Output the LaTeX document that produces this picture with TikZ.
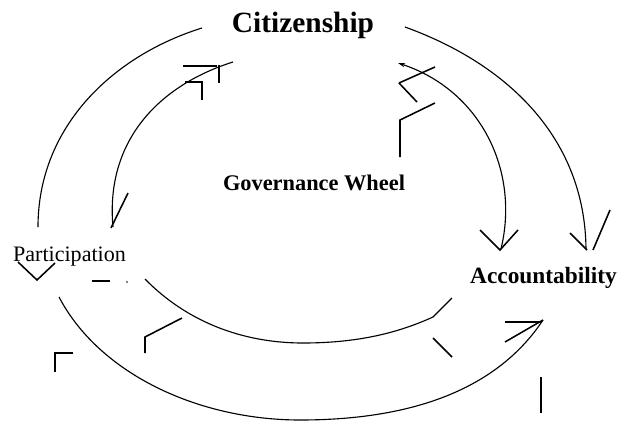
\documentclass[tikz,border=0pt]{standalone}
\usepackage{fontspec}
\setmainfont{Liberation Serif}
\usetikzlibrary{arrows.meta}

\begin{document}
\begin{tikzpicture}[x=0.025cm, y=-0.025cm, line width=0.8pt,
    word/.style={anchor=base, inner sep=0pt},
    barb/.style={line width=1.1pt}]
    \useasboundingbox (0,0) rectangle (627,423);

    \node[word, font=\bfseries\fontsize{20.9}{24}\selectfont] (cit) at (303,32) {Citizenship};
    \node[word, font=\bfseries\fontsize{15.9}{19}\selectfont] (wheel) at (314,190) {Governance Wheel};
    \node[word, font=\fontsize{15.7}{19}\selectfont] (part) at (69.5,261) {Participation};
    \node[word, font=\bfseries\fontsize{16.6}{20}\selectfont] (acc) at (543.5,283) {Accountability};

    % arc ends
    \coordinate (tl1) at (202,28);
    \coordinate (tl2) at (38,227);
    \coordinate (ti1) at (233,62);
    \coordinate (ti2) at (113,227);
    \coordinate (tr1) at (405,27);
    \coordinate (tr2) at (586,249);
    \coordinate (ri1) at (398,63);
    \coordinate (ri2) at (501,249);
    \coordinate (bi1) at (145,279);
    \coordinate (bi2) at (433,317);
    \coordinate (bo1) at (59,297);
    \coordinate (bo2) at (543,320);

    \draw (tl1) .. controls (115,55) and (38,125) .. (tl2);
    \draw (ti1) .. controls (160,85) and (105,140) .. (ti2);
    \draw (tr1) .. controls (510,65) and (585,140) .. (tr2);
    \draw[{Stealth[length=5pt,width=3pt]}-] (ri1) .. controls (480,90) and (520,170) .. (ri2);
    \draw (bi1) .. controls (185,320) and (240,343) .. (303,343)
        .. controls (360,343) and (400,332) .. (bi2) -- (452,298);
    \draw (bo1) .. controls (100,375) and (200,420) .. (300,420)
        .. controls (420,420) and (500,385) .. (bo2);

    % broken arrow heads
    \draw[barb] (128,193) -- (111,228);
    \draw[barb] (183,66) -- (217,66);
    \draw[barb] (219,65) -- (219,83);
    \draw[barb] (185,82) -- (202,82) -- (202,100);
    \draw[barb] (18,262) -- (37,280) -- (55,263);
    \draw[barb] (92,281) -- (110,281);
    \fill (127,282) circle (0.8);
    \draw[barb] (182,318) -- (145,337) -- (145,353);
    \draw[barb] (73,353) -- (55,353) -- (55,372);
    \draw[barb] (480,230) -- (500,250) -- (518,230);
    \draw[barb] (570,233) -- (587,250);
    \draw[barb] (610,210) -- (593,250);
    \draw[barb] (399,83) -- (435,67);
    \draw[barb] (399,83) -- (417,102);
    \draw[barb] (435,103) -- (400,120) -- (400,157);
    \draw[barb] (433,338) -- (452,357);
    \draw[barb] (505,322) -- (542,322);
    \draw[barb] (505,342) -- (543,320);
    \draw[barb] (541,377) -- (541,413);
\end{tikzpicture}
\end{document}
